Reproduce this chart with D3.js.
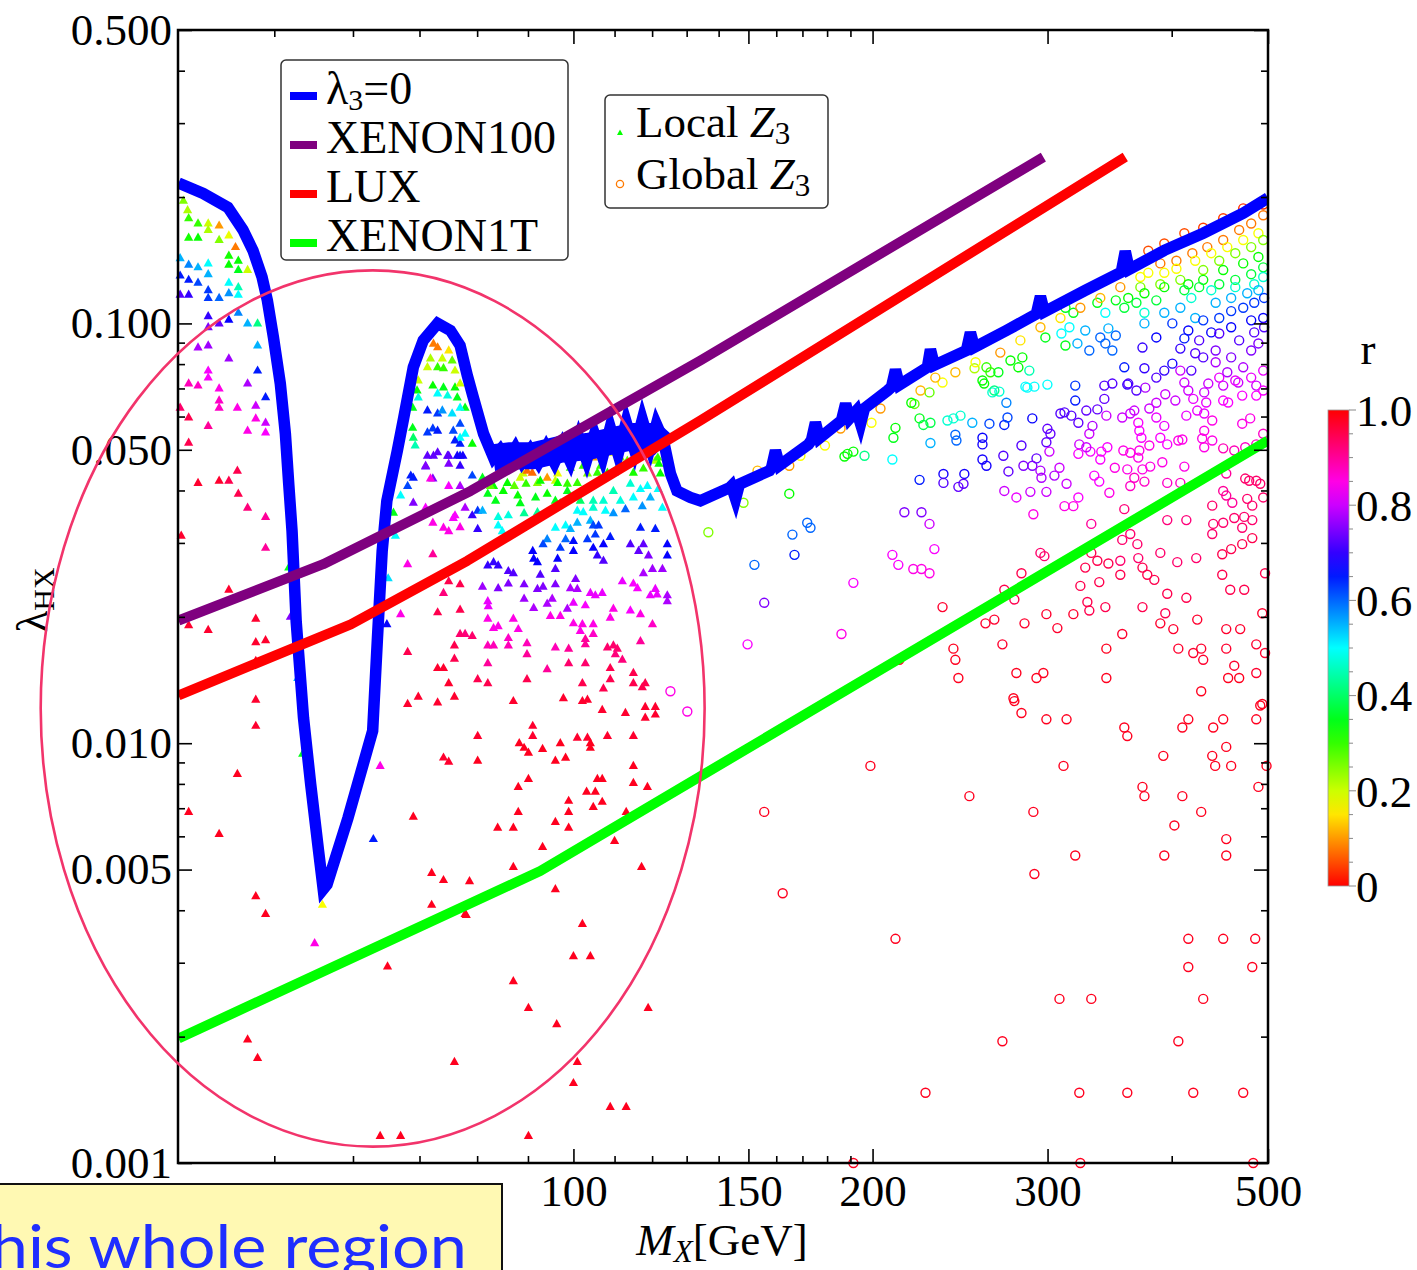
<!DOCTYPE html>
<html><head><meta charset="utf-8">
<script src="https://cdn.jsdelivr.net/npm/d3@7"></script>
<style>
body{margin:0;background:#fff;overflow:hidden;}
svg{display:block;}
</style>
</head><body>
<svg id="c" width="1417" height="1270"></svg>
<script>
// ---------------- data ----------------
const xDomain = [40, 500];
const yDomain = [0.001, 0.5];
const xMajorTicks = [100, 150, 200, 300, 500];
const xMinorTicks = [50, 60, 70, 80, 90, 110, 120, 130, 140, 160, 170, 180, 190, 400];
const yMajorTicks = [0.001, 0.005, 0.01, 0.05, 0.1, 0.5];
const yMinorTicks = [0.002,0.003,0.004,0.006,0.007,0.008,0.009,0.02,0.03,0.04,0.06,0.07,0.08,0.09,0.2,0.3,0.4];
const colorTicks = [0, 0.2, 0.4, 0.6, 0.8, 1.0];
const colorTickLabels = ["0", "0.2", "0.4", "0.6", "0.8", "1.0"];

// lambda3 = 0 curve [M_X, lambda_HX] (including its numerical spikes)
const lambda3Zero = [[40.05,0.216],[42.4,0.204],[44.9,0.189],[46.5,0.167],[47.6,0.149],[48.6,0.129],[49.2,0.1135],[49.9,0.0926],[50.7,0.0719],[51.3,0.0546],[51.7,0.0415],[52.1,0.0320],[52.6,0.0195],[53.5,0.0115],[54.4,0.00798],[55.4,0.00554],[56.0,0.00449],[56.5,0.00461],[59.3,0.00663],[62.8,0.0107],[63.5,0.0178],[64.2,0.0287],[64.9,0.0378],[66.5,0.0498],[67.5,0.0597],[69.0,0.0786],[70.6,0.0911],[73.0,0.100],[75.2,0.0962],[76.9,0.0886],[78.2,0.0751],[79.2,0.0673],[81.2,0.0546],
[83.1,0.0479],[84.4,0.0500],[85.8,0.0470],[87.4,0.0505],[88.8,0.0468],[90.5,0.0500],[92.2,0.0466],[93.9,0.0507],[95.7,0.0466],[97.5,0.0514],[99.3,0.0468],[101.2,0.0535],[103.1,0.0472],[105.0,0.0545],[107.0,0.0480],[108.9,0.0565],[110.9,0.0488],[113.0,0.0582],[115.2,0.0500],[117.3,0.0590],[119.5,0.0508],[121.2,0.0575],[123.2,0.0526],
[125.2,0.0439],[127.1,0.0399],[131.1,0.0385],[134.2,0.0378],[143.6,0.0406],[144.2,0.0410],[145.6,0.0382],[146.9,0.0414],[157.5,0.0446],[158.3,0.0454],[159.7,0.0498],[161.2,0.0459],[172.4,0.0515],[173.6,0.0527],[175.2,0.0581],[176.8,0.0533],[186.1,0.0587],[187.9,0.0644],[189.6,0.0594],[192.7,0.0620],[194.5,0.0577],[196.3,0.0628],[207.1,0.0692],[209.0,0.0706],[210.9,0.0776],[212.8,0.0714],[227.1,0.0786],[228.7,0.0867],[230.8,0.0795],[248.6,0.0862],[250.9,0.0951],[253.2,0.0877],[272.7,0.0962],[292.3,0.1053],[295.1,0.1160],[297.8,0.1066],[327.4,0.1199],[355.9,0.1325],[359.2,0.1485],[362.5,0.1345],[393.2,0.1493],[430.3,0.164],[472.1,0.183],[500,0.199]];
// mean position of the noisy plateau of the lambda3 = 0 curve
const lambda3ZeroPlateau = [[83.1,0.0479],[86.4,0.0484],[91.2,0.0484],[97.0,0.0501],[103.3,0.0509],[109.7,0.0526],[114.9,0.0538],[120.4,0.0538],[123.2,0.0512]];
const xenon100 = [[40.05,0.0196],[56.0,0.0267],[78.8,0.0399],[134.2,0.0816],[297.1,0.249]];
const lux = [[40.05,0.0130],[59.7,0.0192],[78.2,0.0272],[134.2,0.0587],[359.2,0.249]];
const xenon1T = [[40.05,0.00198],[92.6,0.00496],[500,0.0526]];

// Local Z3 points [M_X, lambda_HX, r]
const localZ3 = [
[40.5,0.196,.25],[40.9,0.186,.22],[41.0,0.178,.3],[41.9,0.173,.3],[42.9,0.173,.2],[42.9,0.167,.22],[44.0,0.171,.1],[44.0,0.158,.25],[41.0,0.160,.32],[41.9,0.160,.33],[45.0,0.162,.18],[45.0,0.145,.32],[45.0,0.138,.33],[46.0,0.141,.33],[46.0,0.134,.35],[47.0,0.134,.2],[45.7,0.152,.08],
[40.2,0.143,.55],[41.0,0.138,.58],[41.9,0.136,.55],[42.9,0.139,.5],[42.9,0.131,.55],[45.0,0.125,.5],[46.0,0.122,.45],[46.0,0.117,.5],[45.0,0.118,.57],[44.0,0.115,.6],[42.9,0.120,.63],[42.9,0.115,.63],[41.0,0.127,.65],[41.9,0.125,.62],[40.2,0.130,.65],[40.2,0.117,.72],[41.0,0.117,.7],[42.9,0.104,.7],[44.0,0.100,.73],[45.0,0.102,.67],[46.0,0.106,.58],[47.0,0.100,.55],[48.1,0.100,.42],[48.1,0.0886,.55],
[42.9,0.0979,.75],[41.9,0.0876,.78],[42.9,0.0886,.77],[45.0,0.0825,.77],[48.1,0.0772,.65],[42.9,0.0772,.83],[42.9,0.0743,.83],[47.0,0.0719,.78],[41.0,0.0719,.88],[41.9,0.0711,.87],[44.0,0.0700,.85],[44.0,0.0655,.87],[44.0,0.0630,.87],[45.9,0.0630,.85],[47.9,0.0637,.8],[49.0,0.0667,.65],[40.2,0.0630,.93],[41.0,0.0597,.95],[42.9,0.0570,.9],[47.0,0.0555,.85],[47.9,0.0594,.85],[49.0,0.0580,.8],[49.0,0.0550,.83],[41.0,0.0520,.95],[45.9,0.0446,.95],[41.9,0.0417,.97],[44.0,0.0422,.97],[45.0,0.0422,.95],[46.0,0.0393,.95],[47.0,0.0364,.92],[49.0,0.0346,.9],[49.0,0.0292,.9],[40.3,0.0312,.97],[45.0,0.0232,.97],[41.0,0.0191,.97],[42.9,0.0186,.97],[47.9,0.0198,.97],[47.9,0.0174,.97],[49.0,0.0176,.97],[47.9,0.0157,.97],[47.9,0.0127,.97],[47.9,0.0110,.97],[45.9,0.00845,.98],[41.0,0.00686,.98],[44.0,0.00608,.98],[47.9,0.00432,.98],[49.0,0.00392,.98],[55.9,0.00412,.17],[54.9,0.00334,.85],[62.9,0.00591,.65],[63.9,0.00883,.85],[51.9,0.0200,.75],[52.8,0.0143,.55],[53.4,0.00944,.35],[51.7,0.0262,.35],[47.0,0.00197,.98],[48.1,0.00178,.98],
[64.9,0.0192,.67],[65.1,0.0247,.52],[65.9,0.0354,.35],[66.2,0.0312,.5],[67.0,0.0389,.5],[68.1,0.0410,.62],[69.0,0.0429,.65],[71.0,0.0456,.73],[72.2,0.0427,.75],[74.9,0.0463,.75],[76.9,0.0458,.7],[74.9,0.0410,.83],[76.9,0.0410,.78],[69.0,0.0374,.75],[71.0,0.0364,.83],[72.2,0.0335,.85],[74.0,0.0326,.85],[74.9,0.0320,.85],[75.7,0.0344,.83],[76.9,0.0327,.85],[77.8,0.0364,.78],[68.1,0.0267,.85],[72.2,0.0282,.9],[67.0,0.0203,.85],[68.1,0.0165,.95],[73.0,0.0205,.95],[74.9,0.0243,.95],[74.0,0.0228,.92],[76.9,0.0239,.95],[76.9,0.0208,.95],[77.8,0.0182,.92],[75.9,0.0171,.95],[75.9,0.0159,.95],[73.0,0.0151,.97],[74.0,0.0151,.97],[74.9,0.0139,.97],[75.9,0.0129,.97],[69.8,0.0129,.97],[68.1,0.0124,.97],[73.0,0.0125,.97],[74.0,0.00924,.97],[74.9,0.00903,.97],[69.0,0.00668,.98],[72.0,0.00491,.98],[74.0,0.00472,.98],[72.0,0.00412,.98],[77.8,0.00392,.98],
[76.9,0.0517,.65],[79.1,0.0517,.33],[74.9,0.0484,.72],[76.9,0.0484,.65],[79.1,0.0434,.62],[81.0,0.0429,.35],[83.1,0.0410,.33],[85.0,0.0399,.33],[87.2,0.0410,.27],[89.0,0.0439,.2],[89.6,0.0415,.3],[92.0,0.0417,.25],[94.1,0.0429,.1],[95.9,0.0422,.2],[98.6,0.0415,.3],[100.9,0.0417,.3],[103.3,0.0439,.25],[105.7,0.0441,.3],[108.2,0.0441,.32],[110.7,0.0453,.3],[113.3,0.0471,.27],[114.9,0.0441,.32],[117.6,0.0451,.3],[120.9,0.0471,.22],[122.3,0.0439,.33],
[82.0,0.0393,.35],[83.5,0.0378,.35],[87.9,0.0389,.33],[88.4,0.0373,.35],[91.6,0.0385,.35],[94.1,0.0393,.33],[95.9,0.0378,.35],[98.6,0.0399,.35],[97.0,0.0373,.42],[101.6,0.0378,.4],[104.7,0.0378,.45],[107.2,0.0378,.47],[109.7,0.0399,.45],[111.5,0.0378,.48],[114.1,0.0415,.47],[114.9,0.0385,.5],[116.8,0.0403,.5],[118.7,0.0410,.5],[119.5,0.0385,.55],[121.7,0.0403,.5],[122.9,0.0364,.5],[117.3,0.0367,.57],[112.8,0.0361,.6],[109.7,0.0353,.57],[107.7,0.0358,.5],[104.7,0.0364,.47],[102.3,0.0355,.5],[100.9,0.0358,.5],[104.0,0.0339,.55],[100.9,0.0335,.55],[84.0,0.0346,.48],[86.0,0.0349,.48],[89.2,0.0353,.43],[92.0,0.0355,.43],[80.1,0.0358,.63],[81.0,0.0358,.55],[79.1,0.0349,.7],[76.0,0.0349,.83],[80.1,0.0324,.7],[84.0,0.0330,.5],[84.8,0.0320,.5],[95.9,0.0326,.5],[98.2,0.0330,.5],[99.3,0.0324,.55],[104.7,0.0330,.62],[106.0,0.0330,.63],[116.8,0.0326,.65],[120.9,0.0324,.65],
[94.1,0.0306,.58],[98.2,0.0306,.6],[103.3,0.0306,.63],[105.2,0.0314,.63],[108.9,0.0310,.65],[93.2,0.0298,.62],[97.0,0.0292,.63],[100.0,0.0303,.66],[100.0,0.0287,.67],[104.7,0.0292,.67],[107.2,0.0298,.67],[105.7,0.0280,.7],[107.2,0.0272,.72],[114.1,0.0298,.72],[117.6,0.0298,.73],[116.3,0.0287,.73],[119.0,0.0280,.75],[124.3,0.0298,.67],[124.3,0.0280,.67],[91.0,0.0287,.67],[91.2,0.0275,.67],[92.0,0.0270,.67],[96.4,0.0275,.67],[82.0,0.0265,.7],[83.1,0.0270,.7],[84.0,0.0265,.7],[86.0,0.0257,.72],[87.0,0.0254,.72],[92.6,0.0252,.72],[95.9,0.0260,.72],[100.5,0.0246,.75],[95.9,0.0239,.75],[93.2,0.0236,.75],[89.2,0.0239,.75],[86.0,0.0240,.75],[84.0,0.0234,.75],[81.0,0.0236,.77],[92.0,0.0233,.75],[99.3,0.0234,.78],[100.9,0.0233,.78],[104.0,0.0228,.82],[105.2,0.0225,.82],[106.9,0.0228,.82],[112.0,0.0243,.82],[114.9,0.0240,.83],[116.0,0.0234,.83],[117.6,0.0254,.78],[120.1,0.0260,.77],[122.9,0.0260,.77],[120.9,0.0233,.82],[119.5,0.0225,.82],[121.4,0.0226,.82],[124.3,0.0225,.78],[124.3,0.0218,.78],
[82.0,0.0218,.82],[82.1,0.0212,.82],[89.2,0.0221,.77],[91.2,0.0210,.78],[94.1,0.0215,.78],[95.2,0.0221,.78],[100.0,0.0216,.82],[98.6,0.0209,.78],[102.8,0.0213,.83],[114.1,0.0207,.83],[116.8,0.0203,.85],[109.7,0.0209,.85],[108.9,0.0199,.85],[94.8,0.0201,.85],[97.0,0.0201,.85],[82.0,0.0198,.85],[83.1,0.0188,.85],[84.0,0.0190,.85],[87.0,0.0198,.85],[88.0,0.0187,.85],[100.0,0.0193,.85],[102.1,0.0192,.85],[104.7,0.0192,.85],[101.6,0.0185,.85],[104.7,0.0182,.87],[120.1,0.0192,.87],[86.0,0.0178,.87],[102.8,0.0177,.9],[102.8,0.0172,.9],[116.8,0.0175,.9],[76.9,0.0182,.93],[79.1,0.0180,.93],[82.0,0.0171,.88],[83.1,0.0171,.88],[86.0,0.0171,.88],[89.8,0.0173,.88],[95.9,0.0169,.88],[98.9,0.0168,.9],[108.2,0.0169,.93],[109.7,0.0171,.93],[110.7,0.0168,.93],[110.2,0.0163,.92],[112.0,0.0158,.92],[82.0,0.0155,.9],[89.8,0.0163,.9],[98.9,0.0155,.93],[102.8,0.0155,.93],[94.1,0.0150,.9],[108.9,0.0151,.95],
[80.1,0.0142,.95],[82.0,0.0139,.95],[89.8,0.0142,.95],[102.1,0.0139,.95],[107.2,0.0135,.95],[108.9,0.0142,.95],[114.9,0.0147,.95],[114.9,0.0139,.95],[117.3,0.0136,.95],[118.1,0.0139,.95],[87.0,0.0126,.97],[97.7,0.0128,.97],[102.1,0.0126,.97],[103.3,0.0127,.97],[106.9,0.0120,.97],[112.8,0.0118,.97],[118.1,0.0122,.97],[120.9,0.0122,.97],[118.1,0.0115,.97],[120.9,0.0117,.97],[91.0,0.0110,.97],[91.0,0.0104,.97],[80.1,0.0104,.97],[100.9,0.0103,.97],[103.3,0.0103,.97],[108.2,0.0104,.97],[114.9,0.0104,.97],
[80.1,0.00908,.98],[88.2,0.0100,.98],[89.2,0.00975,.98],[90.1,0.00949,.98],[93.1,0.00969,.98],[97.0,0.0100,.98],[95.9,0.00908,.98],[98.2,0.00923,.98],[104.0,0.0100,.98],[104.0,0.00975,.98],[114.9,0.00883,.98],[114.9,0.00804,.98],[118.7,0.00787,.98],[90.1,0.00822,.98],[88.0,0.00787,.98],[88.0,0.00686,.98],[83.9,0.00629,.98],[87.0,0.00629,.98],[95.9,0.00649,.98],[98.9,0.00729,.98],[98.9,0.00686,.98],[98.9,0.00629,.98],[103.1,0.00766,.98],[105.2,0.00766,.98],[105.7,0.00822,.98],[106.9,0.00822,.98],[106.9,0.00725,.98],[104.7,0.00705,.98],[113.0,0.00686,.98],[93.1,0.00566,.98],[110.0,0.00585,.98],[87.0,0.00507,.98],[78.6,0.00469,.98],[78.0,0.00390,.98],[95.9,0.00449,.98],[117.1,0.00507,.98],[102.1,0.00371,.98],[100.0,0.00311,.98],[104.0,0.00311,.98],[65.0,0.00294,.98],[87.0,0.00271,.98],[90.1,0.00234,.98],[96.2,0.00214,.98],[118.9,0.00234,.98],[75.9,0.00174,.98],[100.9,0.00174,.98],[100.0,0.00155,.98],[108.9,0.00136,.98],[113.0,0.00136,.98],[63.9,0.00116,.98],[67.0,0.00116,.98],[90.1,0.00116,.98],
[73.0,0.0877,.08],[74.9,0.0862,.15],[71.8,0.0825,.22],[73.8,0.0825,.2],[71.3,0.0786,.2],[73.0,0.0786,.3],[74.0,0.0782,.3],[75.5,0.0816,.27],[76.0,0.0772,.2],[69.8,0.0731,.2],[72.2,0.0711,.33],[74.0,0.0704,.35],[76.0,0.0704,.33],[76.9,0.0719,.2],[69.6,0.0692,.33],[69.8,0.0666,.48],[73.0,0.0681,.5],[74.7,0.0673,.48],[76.4,0.0666,.35],[77.8,0.0630,.35],[76.9,0.0630,.5],[68.9,0.0630,.35],[71.3,0.0620,.65],[73.0,0.0610,.63],[73.8,0.0620,.57],[75.5,0.0610,.52],[68.9,0.0564,.35],[69.0,0.0534,.4],[69.3,0.0512,.45],[71.3,0.0550,.63],[72.2,0.0562,.63],[73.0,0.0555,.65],[75.7,0.0555,.62],[76.9,0.0577,.62],[76.9,0.0534,.5],[77.8,0.0546,.5],[76.0,0.0526,.65],[73.0,0.0493,.73],[71.3,0.0484,.73],[72.3,0.0484,.73],[74.7,0.0484,.73],[76.4,0.0484,.68],[77.4,0.0484,.68],[71.0,0.0458,.75],[68.6,0.0434,.65],[71.8,0.0427,.85],
[72.3,0.0895,.08],[86.4,0.0453,.05],[89.8,0.0446,.07],[90.9,0.0441,.07],[96.4,0.0439,.18],[104.7,0.0479,.1],[109.7,0.0492,.18],[113.3,0.0517,.08],[114.9,0.0507,.08],[116.8,0.0526,.18],[118.7,0.0517,.18],[120.4,0.0507,.2],[121.6,0.0479,.3],[121.9,0.0463,.33],[111.5,0.0479,.25],[106.5,0.0458,.3],[102.3,0.0458,.3],[99.3,0.0453,.3],[96.4,0.0417,.33],[92.6,0.0422,.33],[88.4,0.0429,.2],[85.8,0.0417,.33],[82.5,0.0410,.27]
];

// Global Z3 points [M_X, lambda_HX, r]
const globalZ3 = [
[259,0.0719,.33],[235.2,0.0723,.17],[228.2,0.0685,.27],[220.4,0.0643,.27],[199.5,0.0580,.17],[210.9,0.0564,.33],[209.9,0.0534,.35],[223.0,0.0594,.35],[225.0,0.0573,.38],[228.7,0.0580,.38],[237.9,0.0587,.47],[241.2,0.0594,.47],[245.2,0.0603,.47],[252.0,0.0580,.55],[262.2,0.0577,.62],[271.4,0.0573,.65],[273.4,0.0597,.62],[272.7,0.0647,.58],[264.0,0.0685,.47],[268.3,0.0688,.47],[286.3,0.0703,.5],[291.0,0.0707,.5],[299.9,0.0715,.5],[319.9,0.0711,.63],[319.9,0.0655,.65],[342.2,0.0711,.72],[348.6,0.0719,.72],[360.9,0.0715,.7],[342.2,0.0661,.73],[289.6,0.0594,.67],[309.1,0.0610,.72],[312.0,0.0614,.72],[317.0,0.0603,.72],[322.2,0.0580,.73],[328.2,0.0620,.73],[336.7,0.0624,.73],[343.8,0.0603,.8],
[242.3,0.0543,.6],[242.9,0.0526,.6],[228.7,0.0519,.55],[258.0,0.0534,.67],[258.0,0.0515,.68],[209.4,0.0474,.5],[187.4,0.0482,.33],[188.7,0.0489,.33],[191.3,0.0495,.33],[196.3,0.0484,.42],[164.9,0.0458,.1],[164.9,0.0393,.33],[148.3,0.0374,.25],[136.7,0.0318,.25],[171.9,0.0335,.6],[173.2,0.0326,.6],[166.1,0.0314,.6],[166.9,0.0281,.65],[152.1,0.0266,.6],[155.6,0.0216,.75],[149.7,0.0172,.83],[186.1,0.0182,.85],[191.3,0.0241,.83],[209.4,0.0281,.83],[212.3,0.0266,.83],[219.8,0.0260,.85],[224.0,0.0260,.85],[228.2,0.0254,.85],[230.8,0.0290,.83],[228.2,0.0333,.8],[224.0,0.0355,.75],[215.3,0.0355,.75],[223.0,0.0424,.65],[235.7,0.0438,.68],[247.4,0.0438,.68],[235.7,0.0417,.72],[244.0,0.0408,.73],[246.9,0.0415,.73],[258.0,0.0474,.68],[260.4,0.0458,.68],[270.8,0.0484,.72],[274.0,0.0444,.73],[271.4,0.0399,.8],[279.1,0.0385,.82],[282.4,0.0512,.72],[292.4,0.0477,.73],[283.7,0.0458,.75],[289.6,0.0458,.75],[295.1,0.0446,.78],[295.8,0.0429,.78],[288.3,0.0397,.8],[299.2,0.0397,.8],[304.8,0.0434,.78],[308.4,0.0453,.8],[313.5,0.0415,.8],
[299.9,0.0561,.73],[302.0,0.0546,.73],[299.2,0.0521,.73],[301.3,0.0495,.8],[322.9,0.0515,.8],[330.5,0.0546,.8],[331.3,0.0495,.83],[339.8,0.0495,.83],[339.0,0.0474,.83],[344.6,0.0507,.83],[334.3,0.0434,.83],[338.2,0.0420,.83],[346.2,0.0395,.85],[322.2,0.0385,.83],[312.0,0.0367,.85],[318.5,0.0367,.85],[290.3,0.0351,.85],[332.0,0.0333,.9],[356.7,0.0597,.8],[363.4,0.0610,.8],[366.8,0.0620,.8],[370.2,0.0580,.83],[371.1,0.0555,.83],[372.9,0.0534,.83],[363.4,0.0492,.85],[371.1,0.0498,.85],[370.2,0.0479,.85],[360.9,0.0449,.85],[373.8,0.0449,.85],[380.6,0.0456,.85],[366.8,0.0429,.87],[375.5,0.0420,.87],[363.4,0.0410,.87],[358.4,0.0361,.92],
[356.7,0.0305,.93],[369.4,0.0298,.93],[363.4,0.0315,.93],[355.1,0.0272,.93],[370.2,0.0276,.93],[355.1,0.0252,.95],[336.7,0.0272,.95],[345.4,0.0268,.95],[332.0,0.0284,.95],[327.4,0.0262,.95],[338.2,0.0242,.95],[323.7,0.0237,.95],[329.0,0.0217,.95],[330.5,0.0207,.95],[343.0,0.0211,.95],[318.5,0.0203,.97],[299.2,0.0203,.97],[306.9,0.0188,.97],[295.1,0.0284,.93],[297.8,0.0279,.93],[282.4,0.0254,.95],[271.4,0.0232,.95],[277.8,0.0220,.95],[265.2,0.0197,.97],[259.8,0.0193,.97],[284.4,0.0193,.97],[270.2,0.0172,.97],[241.2,0.0168,.98],[242.3,0.0158,.98],[244.0,0.0143,.98],[235.2,0.0211,.97],[212.8,0.0158,.98],[279.1,0.0147,.98],[297.1,0.0147,.98],[292.4,0.0143,.98],[277.2,0.0128,.98],[343.8,0.0168,.98],[343.8,0.0143,.98],[356.7,0.0182,.97],
[373.8,0.0211,.95],[394.1,0.0204,.95],[389.6,0.0193,.97],[401.5,0.0187,.97],[395.9,0.0227,.95],[413.8,0.0222,.95],[373.8,0.0262,.95],[384.2,0.0245,.95],[378.0,0.0252,.95],[389.6,0.0284,.93],[405.2,0.0270,.93],[423.4,0.0276,.93],[395.9,0.0340,.92],[413.8,0.0340,.92],[395.9,0.0417,.87],[408.1,0.0417,.87],[391.4,0.0467,.85],[411.9,0.0456,.85],[389.6,0.0534,.83],[395.9,0.0515,.83],[393.2,0.0570,.82],[386.0,0.0597,.82],[413.8,0.0603,.82],[424.4,0.0620,.82],[431.3,0.0610,.82],[406.2,0.0526,.85],[410.0,0.0529,.85],[429.3,0.0532,.85],[431.3,0.0507,.85],[439.4,0.0526,.85],[450.7,0.0504,.88],[462.4,0.0498,.88],[453.9,0.0439,.9],[450.7,0.0399,.9],[453.9,0.0389,.9],[460.3,0.0374,.9],
[474.3,0.0427,.93],[478.7,0.0422,.93],[486.6,0.0422,.93],[491.1,0.0415,.93],[476.5,0.0382,.93],[482.1,0.0368,.93],[494.5,0.0385,.93],[439.4,0.0368,.93],[450.7,0.0335,.93],[471.0,0.0326,.93],[462.4,0.0344,.93],[473.2,0.0346,.93],[482.1,0.0340,.93],[439.4,0.0315,.93],[440.4,0.0333,.93],[471.0,0.0298,.95],[482.1,0.0308,.95],[449.7,0.0282,.95],[459.1,0.0290,.95],[449.7,0.0252,.95],[458.1,0.0232,.95],[473.2,0.0232,.95],[453.9,0.0187,.97],[468.8,0.0187,.97],[453.9,0.0168,.97],[462.4,0.0153,.97],[455.9,0.0143,.98],[467.7,0.0143,.98],[486.6,0.0172,.97],[496.6,0.0164,.97],[486.6,0.0147,.97],[493.4,0.0204,.97],[496.6,0.0254,.95],[493.4,0.0124,.98],[424.4,0.0197,.97],[406.2,0.0168,.97],[420.5,0.0164,.97],[428.3,0.0168,.97],[430.3,0.0158,.97],[428.3,0.0133,.98],
[474.3,0.0507,.87],[486.6,0.0515,.87],[471.0,0.0577,.85],[479.8,0.0594,.85],[494.5,0.0546,.87],[450.7,0.0655,.83],[455.9,0.0648,.83],[471.0,0.0673,.83],[486.6,0.0673,.83],[450.7,0.0711,.8],[466.7,0.0723,.8],[486.6,0.0711,.8],[439.4,0.0587,.85],[431.3,0.0555,.85],[411.9,0.0723,.8],[394.1,0.0678,.8],[415.7,0.0692,.8],[420.5,0.0661,.82],[431.3,0.0685,.8],[433.3,0.0648,.82],[386.0,0.0647,.8],[379.8,0.0627,.8],[403.4,0.0655,.8],[376.3,0.0703,.78],[357.6,0.0498,.85],[379.8,0.0512,.85],[322.2,0.0489,.83],[332.9,0.0570,.78],[328.2,0.0507,.8],[350.6,0.0453,.85],
[389.6,0.139,.08],[404.4,0.141,.08],[419.6,0.147,.08],[434.4,0.152,.08],[450.7,0.158,.08],[467.7,0.167,.08],[480.9,0.173,.08],[494.5,0.181,.08],
[372.0,0.129,.17],[378.9,0.132,.17],[393.2,0.132,.17],[404.4,0.135,.17],[422.4,0.141,.17],[438.4,0.147,.17],[455.0,0.152,.17],[472.1,0.158,.17],[489.0,0.164,.17],
[372.0,0.122,.25],[389.6,0.124,.25],[408.1,0.127,.25],[430.3,0.134,.25],[446.6,0.141,.25],[463.5,0.147,.25],[480.9,0.152,.25],[494.5,0.158,.25],
[361.7,0.115,.33],[375.5,0.118,.33],[393.2,0.122,.33],[415.7,0.124,.33],[430.3,0.127,.33],[450.7,0.134,.33],[472.1,0.139,.33],[489.0,0.144,.33],
[358.4,0.109,.37],[368.6,0.112,.37],[386.0,0.1135,.37],[411.9,0.120,.37],[426.3,0.122,.37],[446.6,0.124,.37],[463.5,0.127,.37],[480.9,0.131,.37],[494.5,0.136,.37],
[375.5,0.106,.47],[418.6,0.115,.47],[438.4,0.120,.47],[463.5,0.122,.47],[484.3,0.124,.47],[494.5,0.129,.47],
[375.5,0.100,.55],[393.2,0.106,.55],[408.1,0.109,.55],[422.4,0.103,.55],[442.9,0.112,.55],[459.1,0.115,.55],[476.5,0.118,.55],[489.0,0.120,.55],
[400.6,0.100,.63],[430.3,0.1017,.63],[446.6,0.103,.63],[459.1,0.107,.63],[472.1,0.109,.63],[484.3,0.112,.63],[495.5,0.115,.63],
[386.0,0.0926,.67],[415.7,0.0962,.67],[438.4,0.0952,.67],[459.1,0.0979,.67],[480.9,0.1017,.67],[494.5,0.103,.67],
[426.3,0.0911,.72],[446.6,0.0946,.72],[467.7,0.0911,.72],[484.3,0.0952,.72],[495.5,0.0979,.72],
[373.8,0.0876,.7],[408.1,0.0871,.7],[411.9,0.0921,.65],[343.0,0.106,.5],[351.4,0.1135,.35],[336.7,0.112,.35],[345.4,0.0973,.55],[339.0,0.0926,.6],[351.4,0.0936,.6],[318.5,0.106,.35],[312.7,0.109,.35],[309.8,0.0946,.5],[315.6,0.0979,.5],[327.4,0.0962,.55],[321.5,0.0896,.55],[330.5,0.0862,.6],[343.0,0.0896,.6],[348.6,0.0862,.6],[298.5,0.0926,.35],[312.7,0.0886,.35],[275.3,0.0816,.33],[283.0,0.0830,.33],[280.4,0.0786,.33],[287.6,0.0772,.45],[260.4,0.0786,.3],[262.8,0.0765,.3],[253.3,0.0782,.22],[258.0,0.0731,.33],[267.7,0.0765,.35],[285.0,0.0707,.5],[265.2,0.0692,.42],[231.3,0.0743,.12],[218.8,0.0647,.33],[179.1,0.0512,.17],[169.2,0.0484,.17],[153.2,0.0446,.12],
[358.4,0.0786,.65],[361.7,0.0719,.72],[368.6,0.0692,.72],[375.5,0.0782,.7],[386.0,0.0743,.72],[393.2,0.0772,.7],[400.6,0.0802,.68],[418.6,0.0772,.72],[422.4,0.0849,.72],[430.3,0.0830,.72],[442.9,0.0862,.75],[459.1,0.0830,.75],[472.1,0.0786,.78],[480.9,0.0862,.75],[489.0,0.0896,.75],[446.6,0.0743,.82],[463.5,0.0731,.82],[480.9,0.0743,.82],[494.5,0.0772,.82],[494.5,0.0692,.83],[442.9,0.0808,.78],[455.0,0.0765,.78],[408.1,0.0772,.8],[435.4,0.0719,.8],
[494.5,0.192,.03],[472.1,0.188,.03],[450.7,0.178,.04],[430.3,0.169,.04],[411.9,0.164,.05],[393.2,0.155,.05],[378.9,0.149,.05],
[355.1,0.122,.1],[339.0,0.115,.12],[323.7,0.109,.1],[309.1,0.103,.15],[295.1,0.0979,.12],[281.7,0.0911,.15],[268.9,0.0852,.1],[253.9,0.0808,.17],[242.3,0.0765,.12],[223.5,0.0692,.12],[203.7,0.0627,.1],[185.7,0.0562,.1],[194.5,0.0587,.2],
[277.8,0.0126,.98],[282.4,0.0118,.98],[299.2,0.0114,.98],[313.5,0.0114,.98],[358.4,0.0109,.98],[360.9,0.0104,.98],[410.0,0.0109,.98],[415.7,0.0114,.98],[440.4,0.0109,.98],[450.7,0.0114,.98],[486.6,0.0114,.98],[491.1,0.0123,.98],[453.9,0.00980,.98],[392.3,0.00933,.98],[439.4,0.00933,.98],[311.3,0.00883,.98],[442.4,0.00883,.98],[459.1,0.00883,.98],[498.3,0.00883,.98],[199.0,0.00883,.98],[155.6,0.00686,.98],[250.3,0.00748,.98],[290.3,0.00686,.98],[373.8,0.00787,.98],[375.5,0.00748,.98],[410.0,0.00748,.98],[428.3,0.00686,.98],[402.5,0.00637,.98],[489.0,0.00787,.98],[453.9,0.00591,.98],[453.9,0.00540,.98],[319.9,0.00540,.98],[393.2,0.00540,.98],[291.0,0.00488,.98],[162.4,0.00439,.98],[210.9,0.00342,.98],[415.7,0.00342,.98],[450.7,0.00342,.98],[485.4,0.00342,.98],[415.7,0.00293,.98],[482.1,0.00293,.98],[308.4,0.00246,.98],[332.0,0.00246,.98],[430.3,0.00246,.98],[270.2,0.00195,.98],[406.2,0.00195,.98],[226.1,0.00147,.98],[322.9,0.00147,.98],[360.9,0.00147,.98],[420.5,0.00147,.98],[472.1,0.00147,.98],[191.3,0.001,.98],[323.7,0.001,.98],[483.2,0.001,.98],
[125.2,0.0133,.85],[130.2,0.0119,.85]
];

// annotation ellipse (data-space centre and extremes)
const ellipseCentre = [62.8, 0.0121];
const ellipseLeftM = 29.1;
const ellipseTopL = 0.1338;

// ---------------- drawing ----------------
const SERIF = '"Liberation Serif","Times New Roman",serif';
const svg = d3.select('#c');
const L = 178, R = 1268, T = 30, B = 1163;
const x = d3.scaleLog().domain(xDomain).range([L, R]);
const y = d3.scaleLog().domain(yDomain).range([B, T]);
const hue = r => d3.hsl(r * 360, 1, 0.5).toString();

const defs = svg.append('defs');
defs.append('clipPath').attr('id', 'plotClip').append('rect')
  .attr('x', L).attr('y', T).attr('width', R - L).attr('height', B - T);

// points
const gP = svg.append('g');
gP.selectAll('circle.g').data(globalZ3).join('circle').attr('class', 'g')
  .attr('cx', d => x(d[0])).attr('cy', d => y(d[1])).attr('r', 4.5)
  .attr('fill', 'none').attr('stroke', d => hue(d[2])).attr('stroke-width', 1.4);
gP.selectAll('path.t').data(localZ3).join('path').attr('class', 't')
  .attr('d', 'M0,-5.2L4.6,3L-4.6,3Z')
  .attr('transform', d => `translate(${x(d[0])},${y(d[1])})`)
  .attr('fill', d => hue(d[2]));

// curves
const line = d3.line().x(d => x(d[0])).y(d => y(d[1]));
const gL = svg.append('g').attr('clip-path', 'url(#plotClip)');
gL.append('path').datum(lambda3ZeroPlateau).attr('d', line).attr('fill', 'none')
  .attr('stroke', '#0000ff').attr('stroke-width', 27).attr('stroke-linejoin', 'round');
gL.append('path').datum(lambda3Zero).attr('d', line).attr('fill', 'none')
  .attr('stroke', '#0000ff').attr('stroke-width', 11.5)
  .attr('stroke-linejoin', 'miter').attr('stroke-miterlimit', 4);
gL.append('path').datum(xenon100).attr('d', line).attr('fill', 'none')
  .attr('stroke', '#7f007f').attr('stroke-width', 10).attr('stroke-linejoin', 'round');
gL.append('path').datum(lux).attr('d', line).attr('fill', 'none')
  .attr('stroke', '#ff0000').attr('stroke-width', 10).attr('stroke-linejoin', 'round');
gL.append('path').datum(xenon1T).attr('d', line).attr('fill', 'none')
  .attr('stroke', '#00ff00').attr('stroke-width', 10).attr('stroke-linejoin', 'round');

// axes
const fmtY = d3.format('.3f');
function styleAxis(g, fs) {
  g.select('.domain').remove();
  g.selectAll('line').attr('stroke', '#000').attr('stroke-width', 1.6);
  g.selectAll('text').attr('font-size', fs).style('font-family', SERIF).attr('fill', '#000');
}
svg.append('g').attr('transform', `translate(${L},0)`)
  .call(d3.axisLeft(y).tickValues(yMajorTicks).tickSize(-14).tickPadding(6).tickFormat(fmtY))
  .call(g => styleAxis(g, 45));
svg.append('g').attr('transform', `translate(${L},0)`)
  .call(d3.axisLeft(y).tickValues(yMinorTicks).tickSize(-7).tickFormat(''))
  .call(g => styleAxis(g, 0));
svg.append('g').attr('transform', `translate(${R},0)`)
  .call(d3.axisRight(y).tickValues(yMajorTicks).tickSize(-14).tickFormat(''))
  .call(g => styleAxis(g, 0));
svg.append('g').attr('transform', `translate(${R},0)`)
  .call(d3.axisRight(y).tickValues(yMinorTicks).tickSize(-7).tickFormat(''))
  .call(g => styleAxis(g, 0));
svg.append('g').attr('transform', `translate(0,${B})`)
  .call(d3.axisBottom(x).tickValues(xMajorTicks).tickSize(-14).tickPadding(11).tickFormat(d3.format('d')))
  .call(g => styleAxis(g, 45));
svg.append('g').attr('transform', `translate(0,${B})`)
  .call(d3.axisBottom(x).tickValues(xMinorTicks).tickSize(-7).tickFormat(''))
  .call(g => styleAxis(g, 0));
svg.append('g').attr('transform', `translate(0,${T})`)
  .call(d3.axisTop(x).tickValues(xMajorTicks).tickSize(-14).tickFormat(''))
  .call(g => styleAxis(g, 0));
svg.append('g').attr('transform', `translate(0,${T})`)
  .call(d3.axisTop(x).tickValues(xMinorTicks).tickSize(-7).tickFormat(''))
  .call(g => styleAxis(g, 0));
svg.append('rect').attr('x', L).attr('y', T).attr('width', R - L).attr('height', B - T)
  .attr('fill', 'none').attr('stroke', '#000').attr('stroke-width', 2.5);

function txt(sel) { return sel.style('font-family', SERIF).attr('fill', '#000'); }

// axis titles
const xt = txt(svg.append('text')).attr('x', 722).attr('y', 1255).attr('text-anchor', 'middle').attr('font-size', 45);
xt.append('tspan').attr('font-style', 'italic').text('M');
xt.append('tspan').attr('font-style', 'italic').attr('font-size', 31).attr('dy', 7).text('X');
xt.append('tspan').attr('dy', -7).text('[GeV]');
const yt = txt(svg.append('text')).attr('transform', 'translate(47,600) rotate(-90)').attr('text-anchor', 'middle').attr('font-size', 45);
yt.append('tspan').text('λ');
yt.append('tspan').attr('font-size', 30).attr('dy', 7).text('HX');

// ellipse annotation
const ecx = x(ellipseCentre[0]), ecy = y(ellipseCentre[1]);
svg.append('ellipse').attr('cx', ecx).attr('cy', ecy)
  .attr('rx', ecx - x(ellipseLeftM)).attr('ry', ecy - y(ellipseTopL))
  .attr('fill', 'none').attr('stroke', '#f2346b').attr('stroke-width', 2.6);

// legend 1
const leg1 = [
  {c: '#0000ff', parts: [['λ', 'n'], ['3', 's'], ['=0', 'n']]},
  {c: '#7f007f', parts: [['XENON100', 'n']]},
  {c: '#ff0000', parts: [['LUX', 'n']]},
  {c: '#00ff00', parts: [['XENON1T', 'n']]}
];
svg.append('rect').attr('x', 281).attr('y', 60).attr('width', 287).attr('height', 200).attr('rx', 5)
  .attr('fill', '#fff').attr('stroke', '#333').attr('stroke-width', 1.5);
leg1.forEach((e, i) => {
  const yy = 96 + i * 49;
  svg.append('line').attr('x1', 290).attr('x2', 317).attr('y1', yy).attr('y2', yy)
    .attr('stroke', e.c).attr('stroke-width', 8);
  const t = txt(svg.append('text')).attr('x', 326).attr('y', yy + 8).attr('font-size', 46);
  let shifted = false;
  e.parts.forEach(p => {
    const ts = t.append('tspan').text(p[0]);
    if (p[1] === 's') { ts.attr('font-size', 30).attr('dy', 6); shifted = true; }
    else if (shifted) { ts.attr('dy', -6); shifted = false; }
  });
});

// legend 2
svg.append('rect').attr('x', 605).attr('y', 95).attr('width', 223).attr('height', 113).attr('rx', 5)
  .attr('fill', '#fff').attr('stroke', '#333').attr('stroke-width', 1.5);
svg.append('path').attr('d', 'M0,-3.5L3,2L-3,2Z').attr('transform', 'translate(620,133)').attr('fill', hue(0.33));
svg.append('circle').attr('cx', 620).attr('cy', 184).attr('r', 3.6).attr('fill', 'none')
  .attr('stroke', hue(0.08)).attr('stroke-width', 1.3);
[['Local ', 137], ['Global ', 189]].forEach(([lab, yy]) => {
  const t = txt(svg.append('text')).attr('x', 636).attr('y', yy).attr('font-size', 45);
  t.append('tspan').text(lab);
  t.append('tspan').attr('font-style', 'italic').text('Z');
  t.append('tspan').attr('font-size', 31).attr('dy', 7).text('3');
});

// colour bar
const cbX = 1328, cbW = 21;
const cy = d3.scaleLinear().domain([0, 1]).range([886, 410]);
const grad = defs.append('linearGradient').attr('id', 'rainbow')
  .attr('x1', 0).attr('y1', 1).attr('x2', 0).attr('y2', 0);
d3.range(0, 1.0001, 0.05).forEach(v => grad.append('stop').attr('offset', v).attr('stop-color', hue(v)));
svg.append('rect').attr('x', cbX).attr('y', cy(1)).attr('width', cbW).attr('height', cy(0) - cy(1))
  .attr('fill', 'url(#rainbow)').attr('stroke', '#999').attr('stroke-width', 0.8);
d3.range(0, 1.0001, 0.05).forEach(v => {
  const major = Math.abs(v * 5 - Math.round(v * 5)) < 1e-6;
  svg.append('line').attr('x1', cbX + cbW).attr('x2', cbX + cbW + (major ? 7 : 4))
    .attr('y1', cy(v)).attr('y2', cy(v)).attr('stroke', '#888').attr('stroke-width', 1);
});
colorTicks.forEach((v, i) => {
  txt(svg.append('text')).attr('x', cbX + cbW + 7).attr('y', cy(v)).attr('dy', '0.35em')
    .attr('font-size', 45).text(colorTickLabels[i]);
});
txt(svg.append('text')).attr('x', 1368).attr('y', 364).attr('text-anchor', 'middle').attr('font-size', 45).text('r');

// yellow note box (partially visible)
svg.append('rect').attr('x', -10).attr('y', 1184).attr('width', 512).attr('height', 120)
  .attr('fill', '#fff9b3').attr('stroke', '#111').attr('stroke-width', 2);
svg.append('text').attr('x', -48).attr('y', 1268)
  .style('font-family', 'Lato, "Open Sans", sans-serif').attr('font-size', 60)
  .attr('textLength', 515).attr('lengthAdjust', 'spacingAndGlyphs')
  .attr('fill', '#1f2eff').text('This whole region');
</script>
</body></html>
